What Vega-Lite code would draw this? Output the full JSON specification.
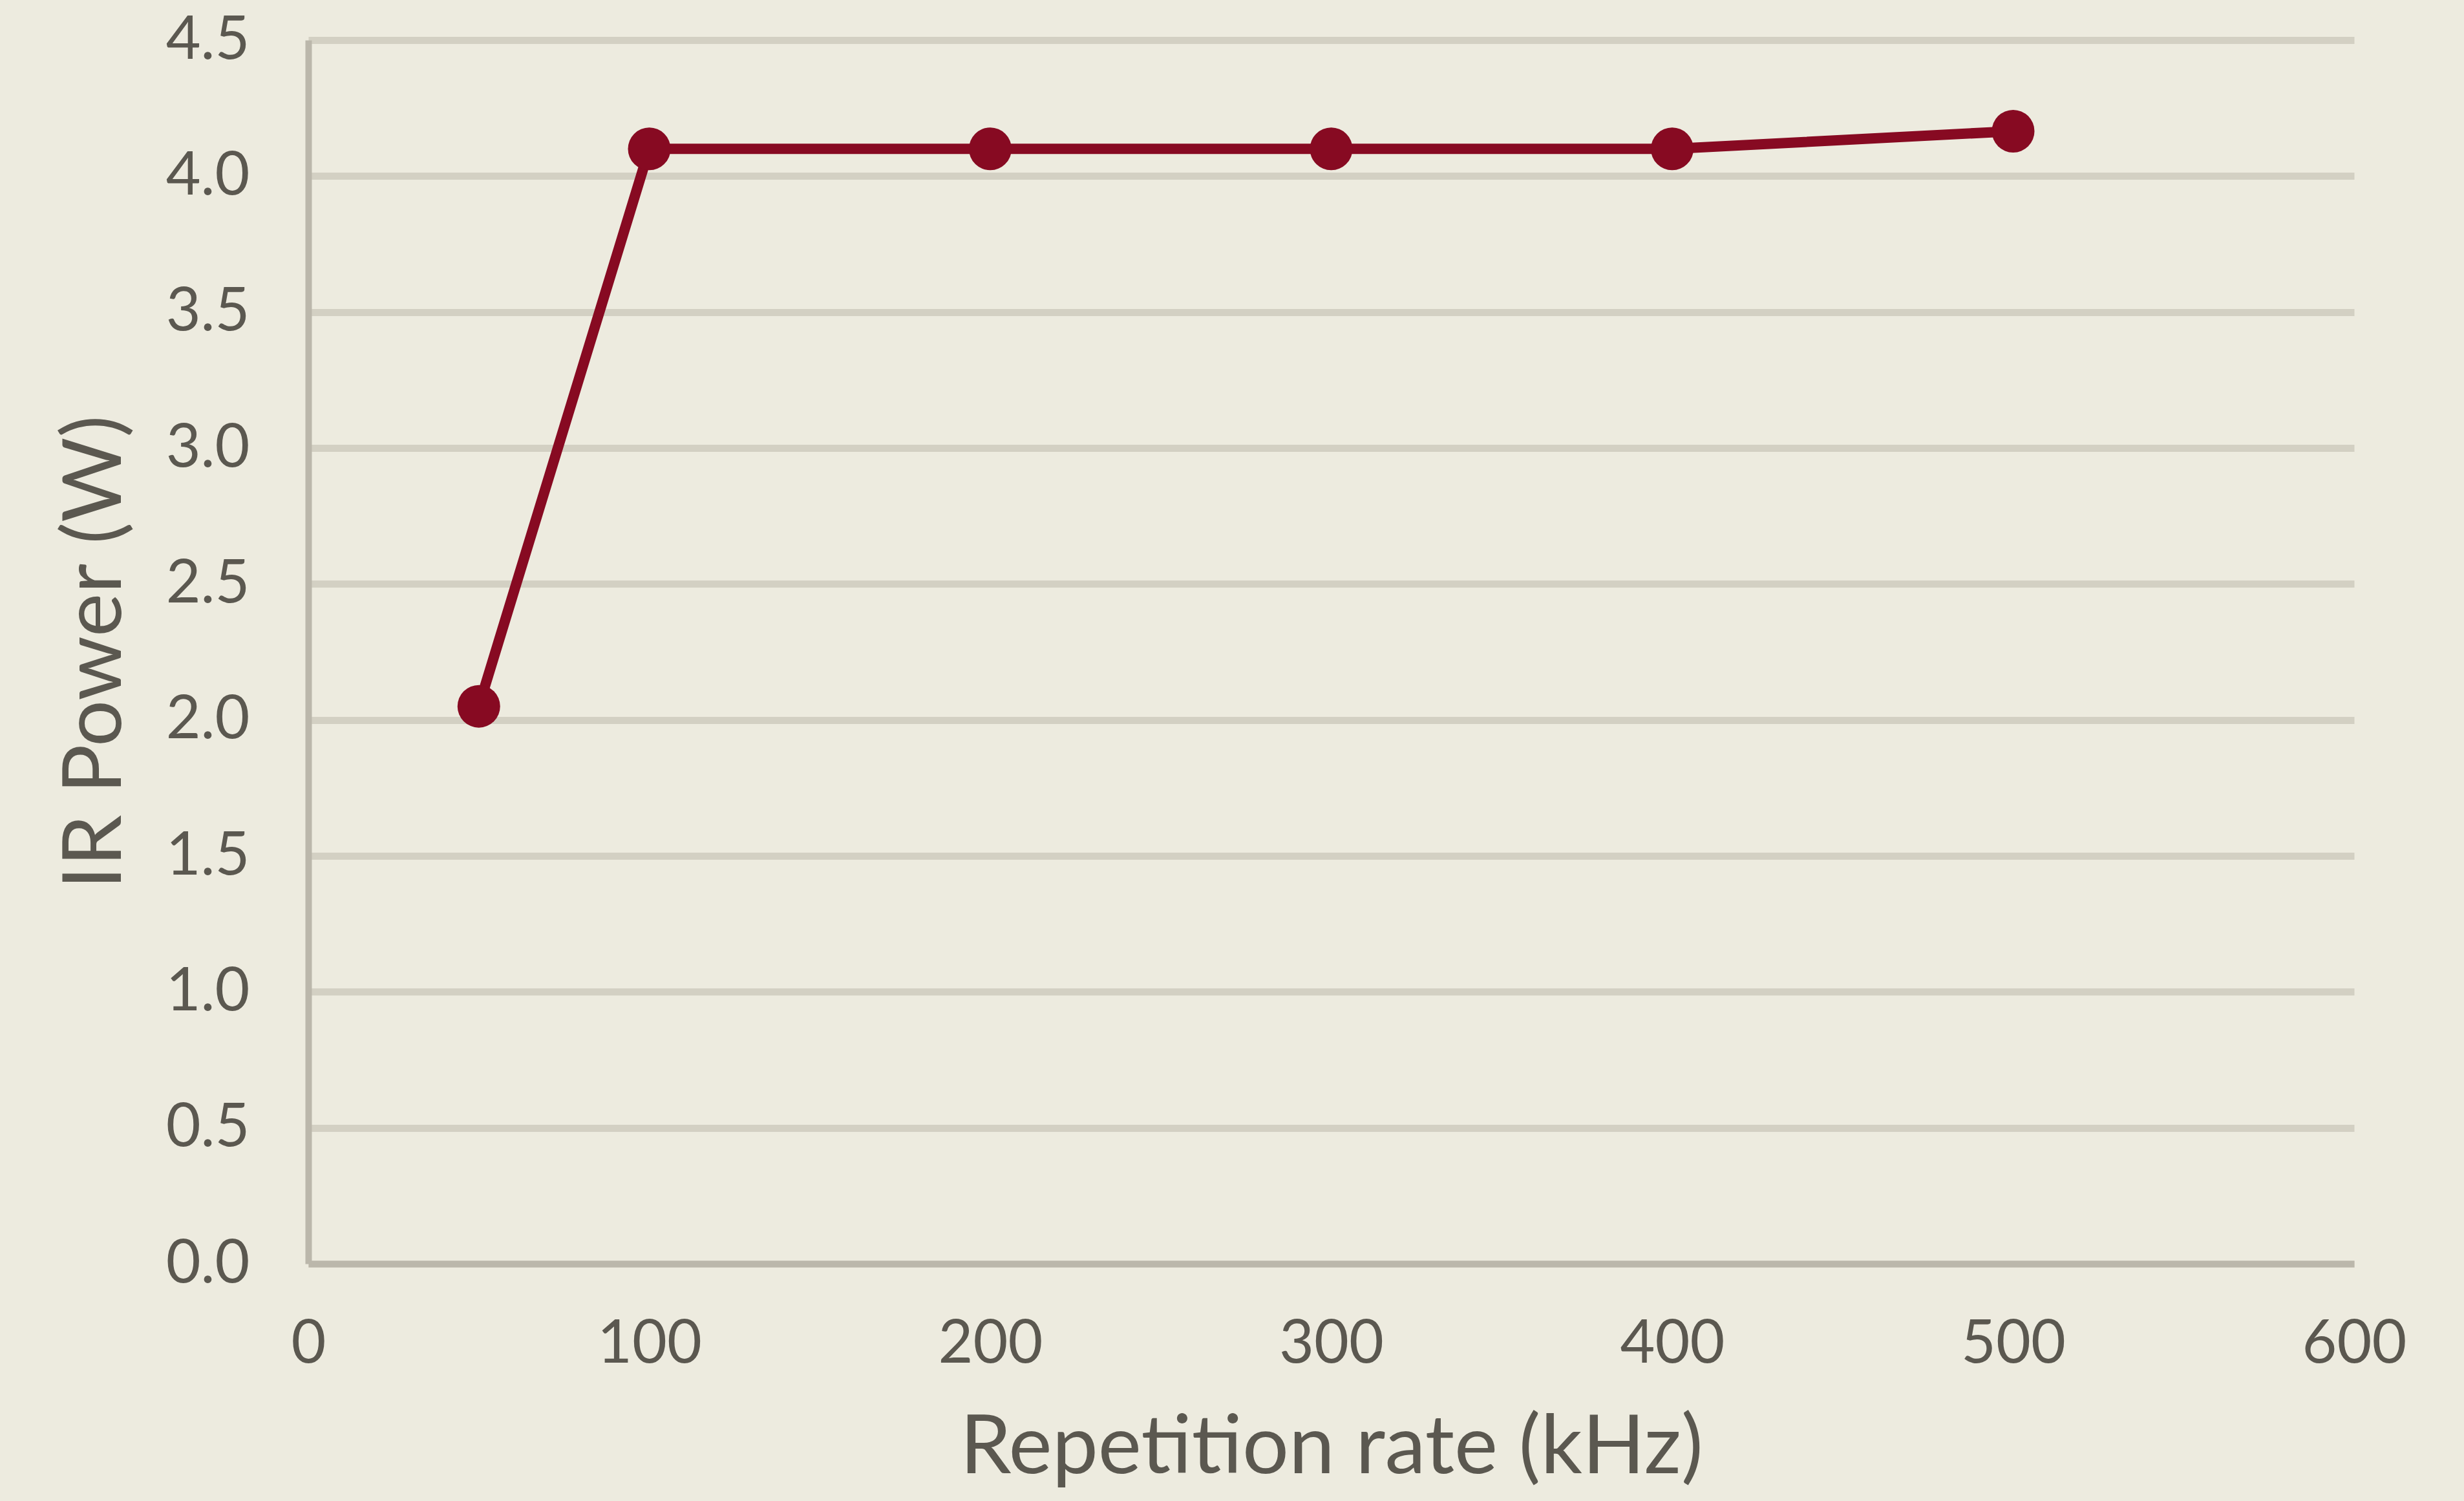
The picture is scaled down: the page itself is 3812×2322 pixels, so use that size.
{
  "$schema": "https://vega.github.io/schema/vega-lite/v6.json",
  "autosize": "none",
  "width": 3165,
  "height": 1893,
  "padding": {"left": 477, "top": 62, "right": 170, "bottom": 367},
  "background": "#edebdf",
  "config": {
    "view": {"stroke": null},
    "font": "Lato"
  },
  "data": {
    "values": [
      {"rate": 50, "power": 2.05},
      {"rate": 100, "power": 4.1},
      {"rate": 200, "power": 4.1},
      {"rate": 300, "power": 4.1},
      {"rate": 400, "power": 4.1},
      {"rate": 500, "power": 4.165}
    ]
  },
  "encoding": {
    "x": {
      "field": "rate",
      "type": "quantitative",
      "title": "Repetition rate (kHz)",
      "scale": {"domain": [0, 600], "nice": false},
      "axis": {
        "values": [0, 100, 200, 300, 400, 500, 600],
        "grid": false,
        "ticks": false,
        "domainColor": "#bbb7ab",
        "domainWidth": 10,
        "labelFont": "Lato",
        "labelFontSize": 93,
        "labelColor": "#5b5850",
        "labelPadding": 79,
        "labelFlush": false,
        "titleFont": "Lato",
        "titleFontSize": 127,
        "titleFontWeight": "normal",
        "titleColor": "#5b5850",
        "titlePadding": 52
      }
    },
    "y": {
      "field": "power",
      "type": "quantitative",
      "title": "IR Power (W)",
      "scale": {"domain": [0, 4.5], "nice": false},
      "axis": {
        "values": [0, 0.5, 1, 1.5, 2, 2.5, 3, 3.5, 4, 4.5],
        "format": ".1f",
        "grid": true,
        "gridColor": "#d3d0c3",
        "gridWidth": 11,
        "ticks": false,
        "domainColor": "#bbb7ab",
        "domainWidth": 10,
        "labelFont": "Lato",
        "labelFontSize": 93,
        "labelColor": "#5b5850",
        "labelPadding": 91,
        "labelFlush": false,
        "titleFont": "Lato",
        "titleFontSize": 127,
        "titleFontWeight": "normal",
        "titleColor": "#5b5850",
        "titlePadding": 64
      }
    }
  },
  "layer": [
    {
      "mark": {"type": "line", "color": "#870a22", "strokeWidth": 16}
    },
    {
      "mark": {"type": "point", "shape": "circle", "filled": true, "color": "#870a22", "opacity": 1, "size": 4356}
    }
  ]
}
